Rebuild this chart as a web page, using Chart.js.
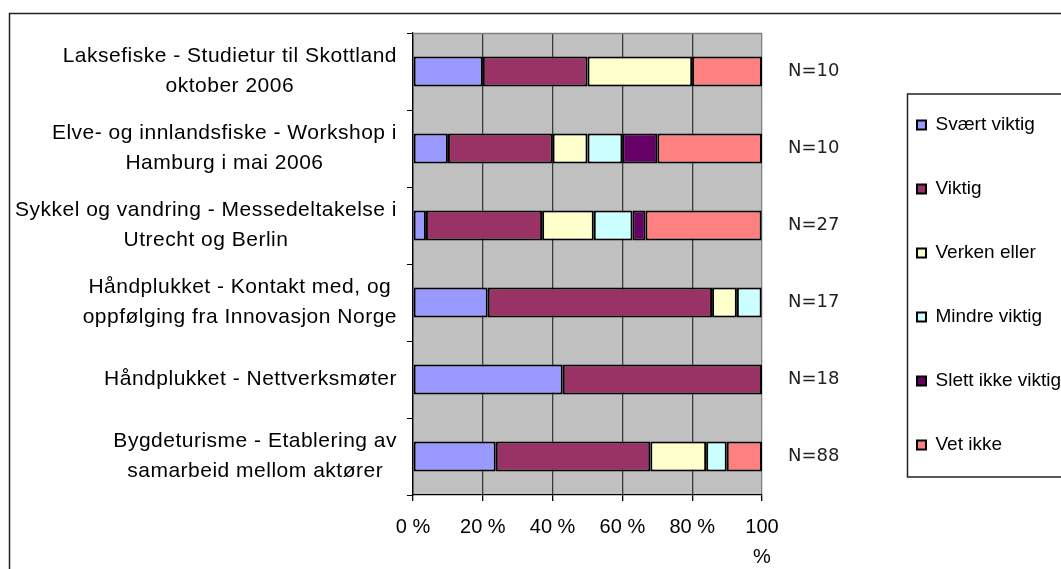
<!DOCTYPE html>
<html>
<head>
<meta charset="utf-8">
<script src="https://cdn.jsdelivr.net/npm/chart.js@4/dist/chart.umd.min.js"></script>
<style>
  html, body { margin: 0; padding: 0; overflow: hidden; background: #fff; }
  canvas { display: block; }
</style>
</head>
<body>
<canvas id="chart" width="1062" height="580"></canvas>
<script>
'use strict';

// categories, top to bottom (each entry = lines of the label)
let categories = [
  ['Laksefiske - Studietur til Skottland', 'oktober 2006'],
  ['Elve- og innlandsfiske - Workshop i', 'Hamburg i mai 2006'],
  ['Sykkel og vandring - Messedeltakelse i', 'Utrecht og Berlin'],
  ['Håndplukket - Kontakt med, og', 'oppfølging fra Innovasjon Norge'],
  ['Håndplukket - Nettverksmøter'],
  ['Bygdeturisme - Etablering av', 'samarbeid mellom aktører']
];
let nLabels = ['N=10', 'N=10', 'N=27', 'N=17', 'N=18', 'N=88'];

let seriesNames = ['Svært viktig', 'Viktig', 'Verken eller', 'Mindre viktig', 'Slett ikke viktig', 'Vet ikke'];
let svaertViktig = [20, 10, 3.7, 21.4, 42.9, 23.7];
let viktig = [30, 30, 33.3, 64.3, 57.1, 44.3];
let verkenEller = [30, 10, 14.8, 7.1, 0, 16.0];
let mindreViktig = [0, 10, 11.1, 7.1, 0, 5.9];
let slettIkkeViktig = [0, 10, 3.7, 0, 0, 0];
let vetIkke = [20, 30, 33.3, 0, 0, 10.1];

let xTicks = [0, 20, 40, 60, 80, 100];

let colors = ['#9999FF', '#993366', '#FFFFCC', '#CCFFFF', '#660066', '#FF8080'];

let canvasElem = document.getElementById('chart');

// grey plot background + outer frame
const backdrop = {
  id: 'backdrop',
  beforeDraw(chart) {
    const {ctx, chartArea: a} = chart;
    ctx.save();
    ctx.fillStyle = '#C0C0C0';
    ctx.fillRect(a.left, a.top, a.right - a.left, a.bottom - a.top);
    ctx.strokeStyle = '#222';
    ctx.lineWidth = 1.5;
    ctx.strokeRect(9.5, 13.5, chart.width + 20, chart.height + 20);
    ctx.restore();
  },
  beforeDatasetsDraw(chart) {
    const {ctx, chartArea: a} = chart;
    ctx.save();
    ctx.strokeStyle = '#808080';
    ctx.lineWidth = 1.5;
    ctx.beginPath();
    ctx.moveTo(a.left, a.top + 0.5);
    ctx.lineTo(a.right, a.top + 0.5);
    ctx.stroke();
    ctx.restore();
  }
};

// y labels: block right aligned, lines centered inside the block
const categoryLabels = {
  id: 'categoryLabels',
  afterDraw(chart) {
    const ctx = chart.ctx;
    const y = chart.scales.y;
    ctx.save();
    ctx.font = '21px "Liberation Sans", Arial, sans-serif';
    ctx.letterSpacing = '0.5px';
    ctx.fillStyle = '#000';
    ctx.textAlign = 'center';
    ctx.textBaseline = 'middle';
    categories.forEach((lines, i) => {
      const yc = y.getPixelForValue(i);
      const w = Math.max(...lines.map(l => ctx.measureText(l).width));
      const xc = y.right - 16 - w / 2;
      lines.forEach((l, j) => {
        ctx.fillText(l, xc, yc + (j - (lines.length - 1) / 2) * 30);
      });
    });
    ctx.restore();
  }
};

// box round the legend
const legendFrame = {
  id: 'legendFrame',
  afterDraw(chart) {
    const boxes = chart.legend.legendHitBoxes;
    if (!boxes || !boxes.length) return;
    const first = boxes[0];
    const last = boxes[boxes.length - 1];
    const ctx = chart.ctx;
    ctx.save();
    ctx.strokeStyle = '#222';
    ctx.lineWidth = 1.5;
    const left = first.left - 10;
    const top = first.top - 22;
    const bottom = last.top + last.height + 22;
    ctx.strokeRect(left + 0.5, top + 0.5, chart.width, bottom - top);
    ctx.restore();
  }
};

function renderChart() {
  const allSeries = [svaertViktig, viktig, verkenEller, mindreViktig, slettIkkeViktig, vetIkke];
  const data = {
    labels: categories,
    datasets: allSeries.map((values, i) => ({
      label: seriesNames[i],
      data: values,
      backgroundColor: colors[i],
      borderColor: '#000',
      borderWidth: 2,
      borderSkipped: false,
      barPercentage: 0.39,
      categoryPercentage: 1.0
    }))
  };

  let config = {
    type: 'bar',
    data: data,
    options: {
      indexAxis: 'y',
      responsive: false,
      animation: false,
      layout: { padding: { top: 0, bottom: 10, left: 0, right: 0 } },
      scales: {
        x: {
          stacked: true,
          min: 0,
          max: 100,
          afterBuildTicks(scale) {
            scale.ticks = xTicks.map(v => ({ value: v }));
          },
          afterFit(scale) { scale.height = 75; },
          ticks: {
            padding: 11,
            color: '#000',
            font: { size: 20, lineHeight: 1.5 },
            maxRotation: 0,
            callback: v => (v === 100 ? ['100', '%'] : v + ' %')
          },
          grid: {
            color: ctx => (ctx.tick && ctx.tick.value === 100 ? '#808080' : '#3a3a3a'),
            lineWidth: 1.3,
            tickLength: 6,
            tickColor: '#000'
          },
          border: { color: '#000', width: 1.3 }
        },
        y: {
          stacked: true,
          afterFit(scale) { scale.width = 413; },
          ticks: { display: false },
          grid: {
            drawOnChartArea: false,
            color: '#000',
            tickLength: 6
          },
          border: { color: '#000', width: 1.3 }
        },
        y2: {
          type: 'category',
          position: 'right',
          labels: nLabels,
          offset: true,
          afterFit(scale) { scale.width = 110; },
          ticks: {
            padding: 0,
            color: '#222',
            font: { family: '"DejaVu Sans", sans-serif', size: 18 }
          },
          grid: {
            drawOnChartArea: false,
            drawTicks: true,
            tickLength: 26,
            color: 'rgba(0,0,0,0)'
          },
          border: { display: false }
        }
      },
      plugins: {
        // empty title only reserves the strip above the plot
        title: {
          display: true,
          text: '',
          font: { size: 20, lineHeight: 1.5 },
          padding: { top: 0, bottom: 3 }
        },
        legend: {
          position: 'right',
          maxWidth: 190,
          labels: {
            boxWidth: 9,
            boxHeight: 9,
            padding: 45,
            color: '#000',
            font: { size: 19 }
          }
        },
        tooltip: { enabled: false }
      }
    },
    plugins: [backdrop, categoryLabels, legendFrame]
  };

  Chart.defaults.font.family = '"Liberation Sans", Arial, sans-serif';
  let myChart = new Chart(canvasElem, config);
}

renderChart();
</script>
</body>
</html>
